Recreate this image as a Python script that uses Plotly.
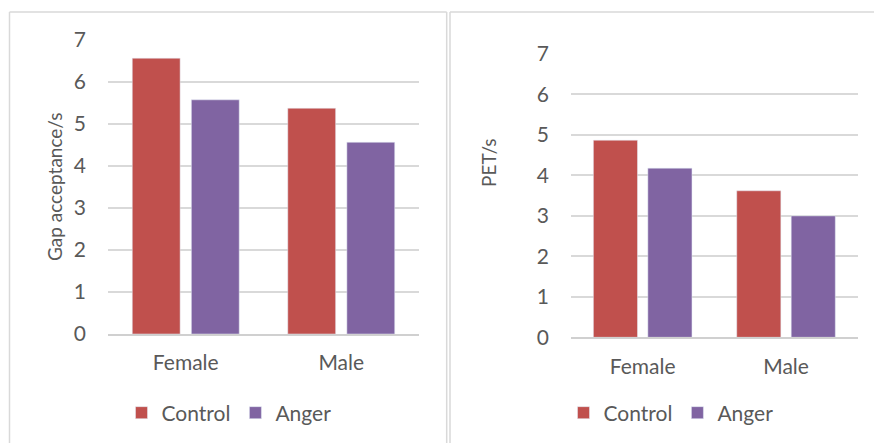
import plotly.graph_objects as go

categories = ["Female", "Male"]
gap_control = [6.56, 5.37]
gap_anger = [5.57, 4.56]
pet_control = [4.87, 3.62]
pet_anger = [4.18, 3.00]
y_ticks = [0, 1, 2, 3, 4, 5, 6, 7]

W, H = 874, 443
RED = "#C0504D"
PURPLE = "#8064A2"
TXT = "#595959"
GRID = "#D9D9D9"
FONT = "Lato, 'Open Sans', sans-serif"
FS = 21

def px(x):
    return x / W

def py(y):
    return 1 - y / H

fig = go.Figure()
fig.add_trace(go.Bar(x=categories, y=gap_control, name="Control", marker_color=RED,
                     xaxis="x", yaxis="y", legend="legend"))
fig.add_trace(go.Bar(x=categories, y=gap_anger, name="Anger", marker_color=PURPLE,
                     xaxis="x", yaxis="y", legend="legend"))
fig.add_trace(go.Bar(x=categories, y=pet_control, name="Control", marker_color=RED,
                     xaxis="x2", yaxis="y2", legend="legend2"))
fig.add_trace(go.Bar(x=categories, y=pet_anger, name="Anger", marker_color=PURPLE,
                     xaxis="x2", yaxis="y2", legend="legend2"))

xcommon = dict(showgrid=False, showline=True, linecolor="#D0D0D0", linewidth=2,
               ticks="", tickfont=dict(size=FS, color=TXT, family=FONT),
               ticklabelstandoff=9, zeroline=False, automargin=False)
ycommon = dict(range=[0, 7], tickvals=y_ticks, showgrid=True, gridcolor=GRID, gridwidth=2,
               zeroline=False, showline=False, ticks="", automargin=False,
               tickfont=dict(size=FS, color=TXT, family=FONT), ticklabelstandoff=21)

fig.update_layout(
    width=W, height=H,
    margin=dict(l=0, r=0, t=0, b=0, autoexpand=False),
    paper_bgcolor="white", plot_bgcolor="white",
    barmode="group", bargap=0.24, bargroupgap=0.19,
    font=dict(family=FONT, color=TXT),
    xaxis=dict(domain=[px(108), px(419)], anchor="y", **xcommon),
    yaxis=dict(domain=[py(334), py(39.7)], anchor="x", **ycommon),
    xaxis2=dict(domain=[px(571), px(857.7)], anchor="y2", **xcommon),
    yaxis2=dict(domain=[py(337.3), py(54)], anchor="x2", **ycommon),
    legend=dict(orientation="h", x=px(229), y=py(413), xanchor="center", yanchor="middle",
                font=dict(size=FS, color=TXT, family=FONT), bgcolor="rgba(0,0,0,0)"),
    legend2=dict(orientation="h", x=px(671), y=py(413), xanchor="center", yanchor="middle",
                 font=dict(size=FS, color=TXT, family=FONT), bgcolor="rgba(0,0,0,0)"),
    showlegend=True,
)

fig.add_annotation(text="Gap acceptance/s", textangle=-90, x=px(55), y=py(187),
                   xref="paper", yref="paper", showarrow=False,
                   xanchor="center", yanchor="middle",
                   font=dict(size=19, color=TXT, family=FONT))
fig.add_annotation(text="PET/s", textangle=-90, x=px(488), y=py(163),
                   xref="paper", yref="paper", showarrow=False,
                   xanchor="center", yanchor="middle",
                   font=dict(size=19, color=TXT, family=FONT))

border = dict(color="#D9D9D9", width=1.5)
for (x0, y0, x1, y1) in [(9.5, 12, 446.7, 12), (9.5, 12, 9.5, 450), (446.7, 12, 446.7, 450),
                         (450, 12, 880, 12), (450, 12, 450, 450)]:
    fig.add_shape(type="line", xref="paper", yref="paper",
                  x0=px(x0), y0=py(y0), x1=px(x1), y1=py(y1), line=border, layer="below")

fig.write_html("out.html", config={"displayModeBar": False},
               post_script="document.body.style.margin='0';")
